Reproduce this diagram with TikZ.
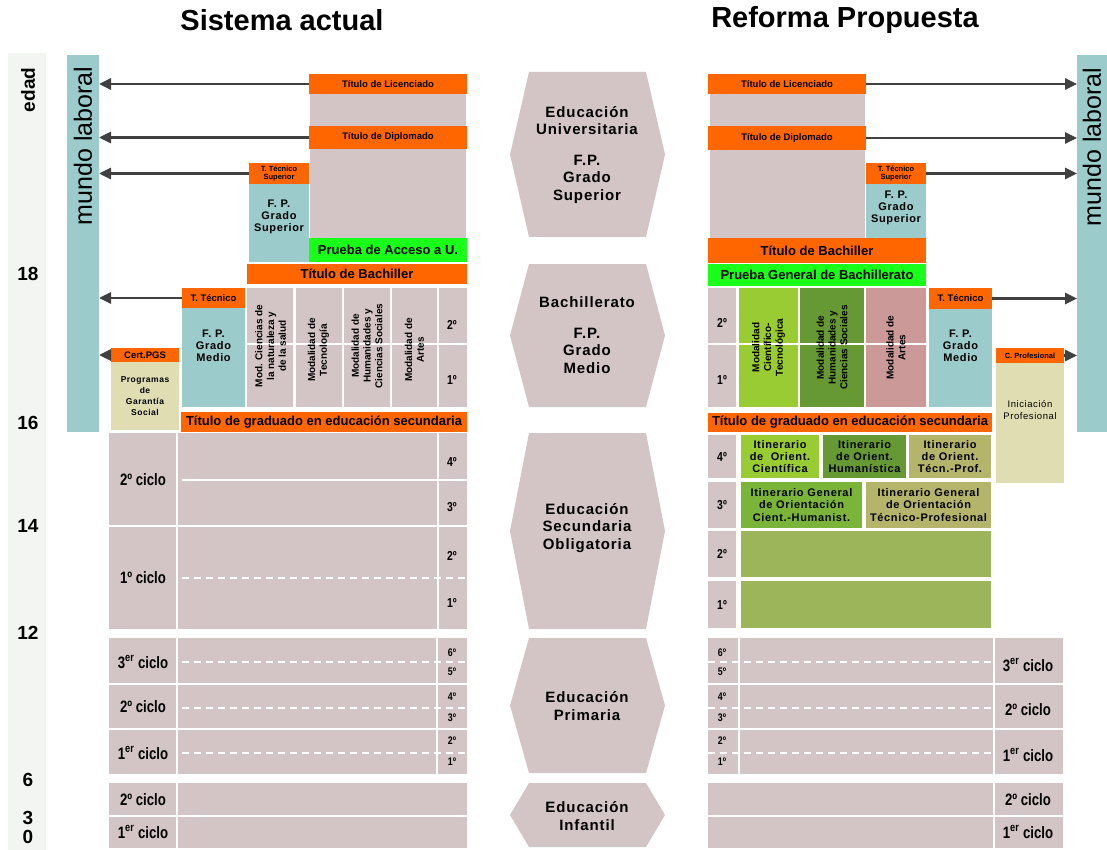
\documentclass[tikz,border=0pt]{standalone}
\usepackage{fontspec}
\setmainfont{Liberation Sans}
\newfontfamily\narrowfont[FakeStretch=0.8]{Liberation Sans}
\newfontfamily\spacedfont[LetterSpace=6]{Liberation Sans}
\usetikzlibrary{arrows.meta}
\definecolor{grayc}{HTML}{D3C5C5}
\definecolor{orangec}{HTML}{FF6600}
\definecolor{tealc}{HTML}{9BCBCB}
\definecolor{limec}{HTML}{1AFF1A}
\definecolor{beigec}{HTML}{E0DDB3}
\definecolor{agec}{HTML}{F3F5F2}
\definecolor{green1}{HTML}{99CC33}
\definecolor{green2}{HTML}{669933}
\definecolor{green3}{HTML}{7AB53A}
\definecolor{green4}{HTML}{9CB45A}
\definecolor{rosec}{HTML}{CC9999}
\definecolor{olivec}{HTML}{B4B46A}
\definecolor{arrowc}{HTML}{404040}
\begin{document}
\begin{tikzpicture}[x=1pt, y=-1pt,
    cell/.style={inner sep=0pt, outer sep=0pt, align=center},
    titulo/.style={cell, fill=orangec, font=\fontsize{13}{14}\selectfont\bfseries},
    titulochico/.style={cell, fill=orangec, font=\fontsize{9.5}{10}\selectfont\bfseries},
    tecnico/.style={cell, fill=orangec, font=\fontsize{7.5}{8.5}\selectfont\bfseries},
    fpbox/.style={cell, fill=tealc},
    fp/.style={cell, font=\fontsize{11}{11.8}\spacedfont\bfseries},
    prueba/.style={cell, fill=limec, font=\fontsize{13}{14}\selectfont\bfseries},
    modalidad/.style={cell, rotate=90, font=\fontsize{10}{11.7}\selectfont\bfseries},
    itinerario/.style={cell, font=\fontsize{11}{12.3}\spacedfont\bfseries},
    curso/.style={cell, font=\fontsize{13}{13}\narrowfont\bfseries},
    cursito/.style={cell, font=\fontsize{11}{12}\narrowfont\bfseries},
    ciclo/.style={cell, font=\fontsize{16.5}{17}\narrowfont\bfseries},
    etapa/.style={cell, font=\fontsize{15}{17.5}\spacedfont\bfseries},
    edadnum/.style={cell, font=\fontsize{19}{20}\selectfont\bfseries},
    laboral/.style={cell, rotate=90, font=\fontsize{25}{26}\selectfont},
    raya/.style={draw=white, line width=2.5pt},
    rayita/.style={raya, dash pattern=on 7pt off 5pt},
    salida/.style={draw=arrowc, line width=2.8pt, -{Triangle[length=12pt,width=11pt]}},
]
    \useasboundingbox (0,0) rectangle (1107,850);

    % Titles
    \node[font=\fontsize{29}{32}\selectfont\bfseries] (sistema) at (282,20) {Sistema actual};
    \node[font=\fontsize{29}{32}\selectfont\bfseries] (reforma) at (845,20) {Reforma Propuesta};

    % Age column
    \fill[agec] (8,53) rectangle (46,850);
    \node[edadnum, rotate=90] (edad) at (28,90) {edad};
    \foreach \a/\y in {18/274,16/423,14/526,12/633,6/780,3/818,0/837}
        \node[edadnum] (edad\a) at (28,\y) {\a};

    % Mundo laboral
    \node[cell, fill=tealc, minimum width=32, minimum height=377] (laboralL) at (83,243.5) {};
    \node[laboral] (laboralLtxt) at (83,146) {mundo laboral};
    \node[cell, fill=tealc, minimum width=30, minimum height=377] (laboralR) at (1092,243.5) {};
    \node[laboral] (laboralRtxt) at (1092,147) {mundo laboral};

    % Sistema actual: university and FP
    \fill[grayc] (310,94) rectangle (466,238);
    \node[titulochico, minimum width=158, minimum height=20] (licL) at (388,84) {Título de Licenciado};
    \node[titulochico, minimum width=158, minimum height=23] (dipL) at (388,137.5) {Título de Diplomado};
    \node[tecnico, minimum width=60, minimum height=21] (ttsL) at (279,173.5) {T. Técnico\\Superior};
    \node[fpbox, minimum width=60, minimum height=78] (fpsL) at (279,223) {};
    \node[fp] (fpsLtxt) at (279,217) {F. P.\\Grado\\Superior};
    \node[prueba, minimum width=158, minimum height=24] (pauL) at (388,250) {Prueba de Acceso a U.};
    \node[titulo, minimum width=220, minimum height=20] (bachL) at (357,274) {Título de Bachiller};
    \node[titulochico, minimum width=63, minimum height=20] (ttL) at (213.5,298) {T. Técnico};
    \node[fpbox, minimum width=63, minimum height=99] (fpmL) at (213.5,357.5) {};
    \node[fp] (fpmLtxt) at (213.5,346) {F. P.\\Grado\\Medio};

    % Sistema actual: modalidades
    \fill[grayc] (247,288) rectangle (467,407);
    \foreach \x in {294.5,343,391,438}
        \draw[raya] (\x,288) -- (\x,407);
    \draw[raya] (247,344) -- (467,344);
    \node[modalidad] (cienL) at (270.5,346) {Mod. Ciencias de\\la naturaleza y\\de la salud};
    \node[modalidad] (tecL) at (318.5,350) {Modalidad de\\Tecnología};
    \node[modalidad] (humL) at (367,346) {Modalidad de\\Humanidades y\\Ciencias Sociales};
    \node[modalidad] (artL) at (414.5,350) {Modalidad de\\Artes};
    \node[curso] (bac2L) at (452,325) {2º};
    \node[curso] (bac1L) at (452,380) {1º};

    % Garantia social
    \node[titulochico, minimum width=68, minimum height=14] (cpgsL) at (145,355) {Cert.PGS};
    \node[cell, fill=beigec, minimum width=68, minimum height=68, font=\fontsize{8.5}{11}\spacedfont\bfseries] (pgsL) at (145,396) {Programas\\de\\Garantía\\Social};
    \node[titulo, minimum width=286, minimum height=20] (gesoL) at (324,422) {Título de graduado en educación secundaria};

    % Arrows to mundo laboral (left)
    \foreach \n in {licL,dipL,ttsL,ttL,cpgsL}
        \draw[salida] (\n.west) -- (\n.west -| laboralL.east);

    % Sistema actual: ESO
    \fill[grayc] (109,433) rectangle (467,629);
    \draw[raya] (177,433) -- (177,629);
    \draw[raya] (438,433) -- (438,629);
    \draw[raya] (182,480) -- (467,480);
    \draw[raya] (109,526) -- (467,526);
    \draw[rayita] (182,578) -- (467,578);
    \node[ciclo] (eso2L) at (143,480) {2º ciclo};
    \node[ciclo] (eso1L) at (143,578) {1º ciclo};
    \foreach \yr/\y in {4/462,3/507,2/556,1/603}
        \node[curso] (esoL\yr) at (452,\y) {\yr º};

    % Sistema actual: primaria
    \fill[grayc] (109,638) rectangle (467,774);
    \draw[raya] (177,638) -- (177,774);
    \draw[raya] (437,638) -- (437,774);
    \foreach \y in {684,729}
        \draw[raya] (109,\y) -- (467,\y);
    \foreach \y in {662,708,753}
        \draw[rayita] (182,\y) -- (467,\y);
    \node[ciclo] (pri3L) at (143,662) {3\textsuperscript{er} ciclo};
    \node[ciclo] (pri2L) at (143,707) {2º ciclo};
    \node[ciclo] (pri1L) at (143,753) {1\textsuperscript{er} ciclo};
    \foreach \yr/\y in {6/653,5/672,4/697,3/718,2/741,1/762}
        \node[cursito] (priL\yr) at (452,\y) {\yr º};

    % Sistema actual: infantil
    \fill[grayc] (109,783) rectangle (467,848);
    \draw[raya] (177,783) -- (177,848);
    \draw[raya] (109,816) -- (467,816);
    \node[ciclo] (inf2L) at (143,800) {2º ciclo};
    \node[ciclo] (inf1L) at (143,832) {1\textsuperscript{er} ciclo};

    % Stages (middle)
    \foreach \t/\b in {72/237,264/407,433/629,638/773,783/847}
        \fill[grayc] (529,\t) -- (646,\t) -- (665,{(\t+\b)/2}) -- (646,\b) -- (529,\b) -- (510,{(\t+\b)/2}) -- cycle;
    \node[etapa] (uni) at (587,155) {Educación\\Universitaria\\[13pt]F.P.\\Grado\\Superior};
    \node[etapa] (bac) at (587,335) {Bachillerato\\[13pt]F.P.\\Grado\\Medio};
    \node[etapa] (eso) at (587,528) {Educación\\Secundaria\\Obligatoria};
    \node[etapa] (pri) at (587,706) {Educación\\Primaria};
    \node[etapa] (inf) at (587,816) {Educación\\Infantil};

    % Reforma: university and FP
    \fill[grayc] (710,94) rectangle (865,238);
    \node[titulochico, minimum width=158, minimum height=20] (licR) at (787,84) {Título de Licenciado};
    \node[titulochico, minimum width=158, minimum height=24] (dipR) at (787,138) {Título de Diplomado};
    \node[tecnico, minimum width=60, minimum height=21] (ttsR) at (896,173.5) {T. Técnico\\Superior};
    \node[fpbox, minimum width=60, minimum height=54] (fpsR) at (896,211) {};
    \node[fp] (fpsRtxt) at (896,208) {F. P.\\Grado\\Superior};
    \node[titulo, minimum width=218, minimum height=25] (bachR) at (817,250.5) {Título de Bachiller};
    \node[prueba, minimum width=218, minimum height=22] (pgbR) at (817,275) {Prueba General de Bachillerato};

    % Reforma: modalidades
    \fill[grayc] (708,288) rectangle (736,407);
    \fill[green1] (739,288) rectangle (798,407);
    \fill[green2] (800,288) rectangle (864,407);
    \fill[rosec] (866,288) rectangle (926,407);
    \draw[raya] (708,344) -- (926,344);
    \node[modalidad] (mctR) at (768.5,347.5) {Modalidad\\Científico-\\Tecnológica};
    \node[modalidad] (mhcR) at (832,347.5) {Modalidad de\\Humanidades y\\Ciencias Sociales};
    \node[modalidad] (maR) at (896,347.5) {Modalidad de\\Artes};
    \node[curso] (bac2R) at (722,323) {2º};
    \node[curso] (bac1R) at (722,380) {1º};
    \node[titulochico, minimum width=63, minimum height=21] (ttR) at (960.5,298.5) {T. Técnico};
    \node[fpbox, minimum width=63, minimum height=98] (fpmR) at (960.5,358) {};
    \node[fp] (fpmRtxt) at (960.5,346) {F. P.\\Grado\\Medio};
    \node[tecnico, minimum width=68, minimum height=15] (cpR) at (1030,355.5) {C. Profesional};
    \node[cell, fill=beigec, minimum width=68, minimum height=120] (ipR) at (1030,423) {};
    \node[cell, font=\fontsize{9.5}{11.5}\spacedfont] (ipRtxt) at (1030,410) {Iniciación\\Profesional};
    \node[titulo, minimum width=284, minimum height=19] (gesoR) at (850,422.5) {Título de graduado en educación secundaria};

    % Arrows to mundo laboral (right)
    \foreach \n in {licR,dipR,ttsR,ttR,cpR}
        \draw[salida] (\n.east) -- (\n.east -| laboralR.west);

    % Reforma: ESO
    \foreach \yr/\t/\b in {4/435/478,3/482/528,2/531/577,1/581/628}
        \node[curso, fill=grayc, minimum width=28, minimum height={\b-\t}] (esoR\yr) at (722,{(\t+\b)/2}) {\yr º};
    \node[itinerario, fill=green1, minimum width=78, minimum height=43] (itcR) at (780,456.5) {Itinerario\\de \ Orient.\\Científica};
    \node[itinerario, fill=green2, minimum width=83, minimum height=43] (ithR) at (864.5,456.5) {Itinerario\\de Orient.\\Humanística};
    \node[itinerario, fill=olivec, minimum width=82, minimum height=43] (ittR) at (950,456.5) {Itinerario\\de Orient.\\Técn.-Prof.};
    \node[itinerario, fill=green3, minimum width=121, minimum height=46] (igchR) at (801.5,505) {Itinerario General\\de Orientación\\Cient.-Humanist.};
    \node[itinerario, fill=olivec, minimum width=125, minimum height=46] (igtpR) at (928.5,505) {Itinerario General\\de Orientación\\Técnico-Profesional};
    \node[cell, fill=green4, minimum width=250, minimum height=46] (eso2R) at (866,554) {};
    \node[cell, fill=green4, minimum width=250, minimum height=47] (eso1R) at (866,604.5) {};

    % Reforma: primaria
    \fill[grayc] (708,638) rectangle (1063,774);
    \draw[raya] (739,638) -- (739,774);
    \draw[raya] (994,638) -- (994,774);
    \foreach \y in {684,729}
        \draw[raya] (708,\y) -- (1063,\y);
    \foreach \y in {662,708,753}
        \draw[rayita] (708,\y) -- (992,\y);
    \node[ciclo] (pri3R) at (1028,665) {3\textsuperscript{er} ciclo};
    \node[ciclo] (pri2R) at (1028,710) {2º ciclo};
    \node[ciclo] (pri1R) at (1028,755) {1\textsuperscript{er} ciclo};
    \foreach \yr/\y in {6/653,5/672,4/697,3/718,2/741,1/762}
        \node[cursito] (priR\yr) at (722,\y) {\yr º};

    % Reforma: infantil
    \fill[grayc] (708,783) rectangle (1063,848);
    \draw[raya] (994,783) -- (994,848);
    \draw[raya] (708,816) -- (1063,816);
    \node[ciclo] (inf2R) at (1028,800) {2º ciclo};
    \node[ciclo] (inf1R) at (1028,832) {1\textsuperscript{er} ciclo};
\end{tikzpicture}
\end{document}
